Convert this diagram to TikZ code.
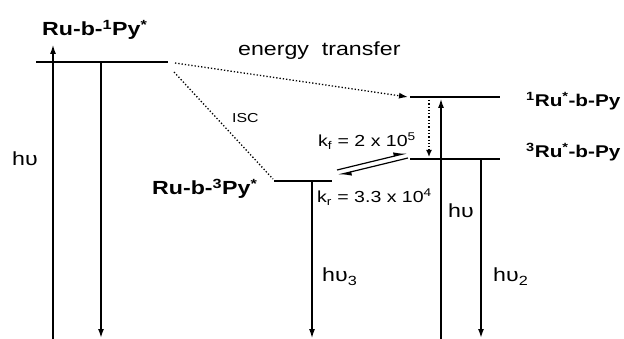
\documentclass[tikz,border=0pt]{standalone}
\usepackage{fontspec}
\setmainfont{Liberation Sans}[FakeStretch=1.22]
\usetikzlibrary{arrows.meta}
\begin{document}
\begin{tikzpicture}[x=1pt,y=-1pt,
  level/.style={line width=1.7pt},
  thickarrow/.style={line width=2.1pt,-{Latex[length=10pt,width=6pt]}},
  downarrow/.style={line width=1.6pt,-{Latex[length=9pt,width=6pt]}},
  thinarrow/.style={line width=1.2pt,-{Latex[length=9pt,width=6pt]}},
  dotline/.style={line width=1.3pt,dotted},
  harp/.style={line width=1.2pt,-{Latex[left,length=11pt,width=8pt]}},
  bl/.style={font=\fontsize{19}{22}\selectfont\bfseries,inner sep=0pt,anchor=base west},
  blr/.style={font=\fontsize{17}{20}\selectfont\bfseries,inner sep=0pt,anchor=base west},
  tx/.style={font=\fontsize{19}{22}\selectfont,inner sep=0pt,anchor=base west},
  hv/.style={font=\fontsize{19}{22}\selectfont,inner sep=0pt,anchor=base west}]
\useasboundingbox (0,0) rectangle (624,339);
% levels
\coordinate (L1a) at (36,62);  \coordinate (L1b) at (168,62);
\coordinate (S1a) at (410,97); \coordinate (S1b) at (500,97);
\coordinate (T1a) at (410,159); \coordinate (T1b) at (500,159);
\coordinate (P3a) at (274,181); \coordinate (P3b) at (332,181);
\draw[level] (L1a) -- (L1b);
\draw[level] (S1a) -- (S1b);
\draw[level] (T1a) -- (T1b);
\draw[level] (P3a) -- (P3b);
% vertical transitions
\coordinate (b1) at (53,339);  \coordinate (t1) at (53,44);
\coordinate (d1a) at (101,62); \coordinate (d1b) at (101,338);
\coordinate (b2) at (441,339); \coordinate (t2) at (441,98);
\coordinate (d2a) at (481,159); \coordinate (d2b) at (481,338);
\coordinate (d3a) at (312,181); \coordinate (d3b) at (312,338);
\draw[thickarrow] (b1) -- (t1);
\draw[downarrow] (d1a) -- (d1b);
\draw[thickarrow] (b2) -- (t2);
\draw[downarrow] (d2a) -- (d2b);
\draw[thinarrow] (d3a) -- (d3b);
% dotted transitions
\coordinate (e1) at (175,63); \coordinate (e2) at (408,97);
\coordinate (i1) at (174,72); \coordinate (i2) at (273,179);
\coordinate (ic1) at (429,100); \coordinate (ic2) at (429,157);
\draw[dotline,-{Latex[length=9pt,width=6pt]}] (e1) -- (e2);
\draw[dotline] (i1) -- (i2);
\draw[dotline,-{Latex[length=7pt,width=6pt]}] (ic1) -- (ic2);
% equilibrium harpoons
\coordinate (f1) at (337,170); \coordinate (f2) at (407,153);
\coordinate (r1) at (408,158); \coordinate (r2) at (338,175);
\draw[harp] (f1) -- (f2);
\draw[harp] (r1) -- (r2);
% labels
\node[bl] (n1) at (42,36) {Ru-b-\textsuperscript{1}Py\textsuperscript{*}};
\node[blr] (n2) at (526,107) {\textsuperscript{1}Ru\textsuperscript{*}-b-Py};
\node[blr] (n3) at (526,158) {\textsuperscript{3}Ru\textsuperscript{*}-b-Py};
\node[bl] (n4) at (152,195) {Ru-b-\textsuperscript{3}Py\textsuperscript{*}};
\node[tx] (et) at (238,56) {energy\ \ transfer};
\node[font=\fontsize{13}{15}\selectfont,inner sep=0pt,anchor=base west] (isc) at (232,123) {ISC};
\node[font=\fontsize{16}{19}\selectfont,inner sep=0pt,anchor=base west] (kf) at (318,147) {k\textsubscript{f} = 2 x 10\textsuperscript{5}};
\node[font=\fontsize{16}{19}\selectfont,inner sep=0pt,anchor=base west] (kr) at (317,203) {k\textsubscript{r} = 3.3 x 10\textsuperscript{4}};
\node[hv] (h1) at (12,166) {hυ};
\node[hv] (h2) at (448,218) {hυ};
\node[hv] (h3) at (322,282) {hυ\textsubscript{3}};
\node[hv] (h4) at (493,282) {hυ\textsubscript{2}};
\end{tikzpicture}
\end{document}
